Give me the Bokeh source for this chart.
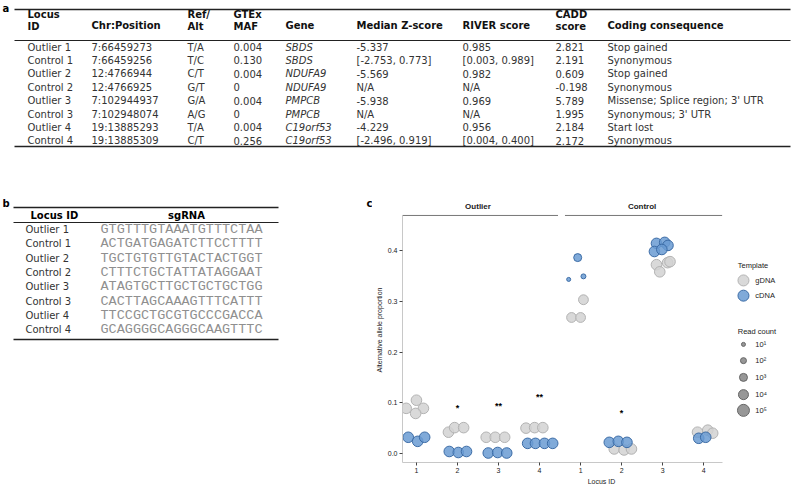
import math
from bokeh.plotting import figure
from bokeh.models import Range1d, FixedTicker, NumeralTickFormatter
from bokeh.layouts import column, row
from bokeh.embed import file_html
from bokeh.resources import INLINE
from bokeh.core.properties import value

FONT = "DejaVu Sans"
PFONT = "Liberation Sans"
MONO = "Liberation Mono"

# ---------------- Table a data ----------------
a_headers = [["Locus", "ID"], ["Chr:Position"], ["Ref/", "Alt"], ["GTEx", "MAF"], ["Gene"],
             ["Median Z-score"], ["RIVER score"], ["CADD", "score"], ["Coding consequence"]]
locus_ids = ["Outlier 1", "Control 1", "Outlier 2", "Control 2",
             "Outlier 3", "Control 3", "Outlier 4", "Control 4"]
chr_pos = ["7:66459273", "7:66459256", "12:4766944", "12:4766925",
           "7:102944937", "7:102948074", "19:13885293", "19:13885309"]
ref_alt = ["T/A", "T/C", "C/T", "G/T", "G/A", "A/G", "T/A", "C/T"]
gtex_maf = ["0.004", "0.130", "0.004", "0", "0.004", "0", "0.004", "0.256"]
gene = ["SBDS", "SBDS", "NDUFA9", "NDUFA9", "PMPCB", "PMPCB", "C19orf53", "C19orf53"]
median_z = ["-5.337", "[-2.753, 0.773]", "-5.569", "N/A", "-5.938", "N/A", "-4.229", "[-2.496, 0.919]"]
river = ["0.985", "[0.003, 0.989]", "0.982", "N/A", "0.969", "N/A", "0.956", "[0.004, 0.400]"]
cadd = ["2.821", "2.191", "0.609", "-0.198", "5.789", "1.995", "2.184", "2.172"]
coding = ["Stop gained", "Synonymous", "Stop gained", "Synonymous",
          "Missense; Splice region; 3' UTR", "Synonymous; 3' UTR", "Start lost", "Synonymous"]

# ---------------- Table b data ----------------
b_headers = ["Locus ID", "sgRNA"]
sgrna = ["GTGTTTGTAAATGTTTCTAA", "ACTGATGAGATCTTCCTTTT", "TGCTGTGTTGTACTACTGGT",
         "CTTTCTGCTATTATAGGAAT", "ATAGTGCTTGCTGCTGCTGG", "CACTTAGCAAAGTTTCATTT",
         "TTCCGCTGCGTGCCCGACCA", "GCAGGGGCAGGGCAAGTTTC"]

# ---------------- Panel c data ----------------
locus_pos = [1, 2, 3, 4, 5, 6, 7, 8]
tick_labels = ["1", "2", "3", "4", "1", "2", "3", "4"]
group_names = ["Outlier", "Control"]
group_members = [[1, 2, 3, 4], [5, 6, 7, 8]]
y_ticks = [0.0, 0.1, 0.2, 0.3, 0.4]

# gDNA (grey) replicates
g_locus = [1, 1, 1, 1, 2, 2, 2, 3, 3, 3, 4, 4, 4, 5, 5, 5, 6, 6, 6, 7, 7, 7, 7, 8, 8, 8]
g_offset = [0.0, -0.25, 0.17, -0.02, -0.22, -0.07, 0.15, -0.3, -0.08, 0.15, -0.33, -0.12, 0.08,
            0.07, -0.22, 0.0, -0.18, 0.06, 0.24, -0.15, 0.12, -0.07, 0.18, -0.15, 0.1, 0.22]
g_value = [0.105, 0.089, 0.089, 0.079, 0.042, 0.051, 0.051, 0.032, 0.032, 0.032, 0.05, 0.051, 0.051,
           0.303, 0.268, 0.268, 0.009, 0.007, 0.009, 0.372, 0.376, 0.358, 0.378, 0.042, 0.046, 0.04]
g_count = [20000] * 13 + [8000, 8000, 8000] + [20000] * 10

# cDNA (blue) replicates
c_locus = [1, 1, 1, 2, 2, 2, 3, 3, 3, 4, 4, 4, 4, 5, 5, 5, 6, 6, 6, 7, 7, 7, 7, 7, 8, 8]
c_offset = [-0.2, 0.03, 0.2, -0.2, 0.02, 0.22, -0.25, -0.02, 0.2, -0.29, -0.1, 0.12, 0.32,
            -0.07, -0.29, 0.07, -0.3, -0.08, 0.13, -0.15, 0.05, 0.13, -0.2, -0.02, -0.12, 0.05]
c_value = [0.032, 0.024, 0.032, 0.004, 0.002, 0.004, 0.001, 0.002, 0.001, 0.02, 0.02, 0.02, 0.02,
           0.386, 0.343, 0.349, 0.022, 0.024, 0.022, 0.414, 0.416, 0.41, 0.398, 0.402, 0.03, 0.032]
c_count = [20000] * 13 + [1000, 10, 30] + [20000] * 10

sig_x = [2, 3, 4, 6]
sig_y = [0.09, 0.093, 0.111, 0.08]
sig_text = ["*", "**", "**", "*"]

fill_types = ["gDNA", "cDNA"]
size_levels = [10, 100, 1000, 10000, 100000]
size_labels = ["10\u00b9", "10\u00b2", "10\u00b3", "10\u2074", "10\u2075"]


def msize(c):
    return 2 + 2 * math.log10(c)


GREY_FILL, GREY_LINE = "#d2d2d2", "#b3b3b3"
BLUE_FILL, BLUE_LINE = "#6a9bd2", "#3c6ca6"

# ================= Figure a (screen-pixel canvas) =================
WA, HA = 800, 193
pa = figure(width=WA, height=HA, x_range=Range1d(0, WA), y_range=Range1d(HA, 0),
            x_axis_type=None, y_axis_type=None, output_backend="svg",
            toolbar_location=None, min_border=0)
pa.grid.visible = False
pa.outline_line_color = None

col_x = [27, 91, 187, 233, 285, 356, 462, 555, 607]
pa.text(x=[2], y=[8], text=["a"], text_font=value(FONT), text_font_style="bold",
        text_font_size="10px", text_baseline="middle")
pa.segment(x0=[14, 14, 14], x1=[790, 790, 790], y0=[9, 40, 146], y1=[9, 40, 146],
           line_color="#222222", line_width=[1.6, 1.0, 1.6])
hx, hy, ht = [], [], []
for cx, h in zip(col_x, a_headers):
    if len(h) == 2:
        hx += [cx, cx]; hy += [14, 26]; ht += h
    else:
        hx.append(cx); hy.append(25); ht.append(h[0])
pa.text(x=hx, y=hy, text=ht, text_font=value(FONT), text_font_style="bold",
        text_font_size="10px", text_baseline="middle", text_color="#111111")
row_y = [46.5 + 13.4 * i for i in range(len(locus_ids))]
for j, colvals in enumerate([locus_ids, chr_pos, ref_alt, gtex_maf, gene, median_z, river, cadd, coding]):
    pa.text(x=[col_x[j]] * len(colvals), y=row_y, text=colvals, text_font=value(FONT),
            text_font_size="10px", text_baseline="middle", text_color="#333333",
            text_font_style="italic" if j == 4 else "normal")

# ================= Figure b =================
WB, HB = 372, 295
BT, BB = 4, 26          # shared top / bottom borders of the lower row
Y0, Y1 = HA + BT, HA + HB - BB
pb = figure(width=WB, height=HB, x_range=Range1d(0, WB), y_range=Range1d(Y1, Y0),
            x_axis_type=None, y_axis_type=None, output_backend="svg",
            toolbar_location=None, min_border_left=0, min_border_right=0,
            min_border_top=BT, min_border_bottom=BB)
pb.grid.visible = False
pb.outline_line_color = None
pb.text(x=[2, 366], y=[203, 203], text=["b", "c"], text_font=value(FONT), text_font_style="bold",
        text_font_size="10px", text_baseline="middle")
pb.segment(x0=[13, 13, 13], x1=[278, 278, 278], y0=[207, 222, 339], y1=[207, 222, 339],
           line_color="#222222", line_width=[1.6, 1.0, 1.6])
pb.text(x=[30], y=[215], text=[b_headers[0]], text_font=value(FONT), text_font_style="bold",
        text_font_size="10px", text_baseline="middle")
pb.text(x=[186], y=[215], text=[b_headers[1]], text_font=value(FONT), text_font_style="bold",
        text_font_size="10px", text_baseline="middle", text_align="center")
brow_y = [229 + 14.3 * i for i in range(len(locus_ids))]
pb.text(x=[25] * 8, y=brow_y, text=locus_ids, text_font=value(FONT), text_font_size="10px",
        text_baseline="middle", text_color="#333333")
pb.text(x=[100] * 8, y=brow_y, text=sgrna, text_font=value(MONO), text_font_size="13.5px",
        text_baseline="middle", text_color="#8f8f8f")

# ================= Figure c =================
WC = WA - WB
pc = figure(width=WC, height=HB, x_range=Range1d(0.66, 10.36), y_range=Range1d(-0.0177, 0.5044),
            output_backend="svg", toolbar_location=None,
            min_border_left=26, min_border_right=0, min_border_top=BT, min_border_bottom=BB)
pc.grid.visible = False
pc.outline_line_color = None

for ax in (pc.xaxis[0], pc.yaxis[0]):
    ax.axis_line_color = "#c8c8c8"
    ax.major_tick_line_color = "#444444"
    ax.major_tick_out = 3
    ax.major_tick_in = 0
    ax.minor_tick_line_color = None
    ax.major_label_text_font = PFONT
    ax.major_label_text_font_size = "7px"
    ax.major_label_text_color = "#222222"
    ax.axis_label_text_font = PFONT
    ax.axis_label_text_font_size = "7px"
    ax.axis_label_text_font_style = "normal"
    ax.axis_label_text_color = "#222222"
    ax.major_label_standoff = 2
    ax.axis_label_standoff = 2

pc.xaxis.ticker = FixedTicker(ticks=locus_pos)
pc.xaxis.major_label_overrides = {p: l for p, l in zip(locus_pos, tick_labels)}
pc.xaxis.bounds = (0.66, 8.45)
pc.xaxis.axis_label = "Locus ID"
pc.yaxis.ticker = FixedTicker(ticks=y_ticks)
pc.yaxis.formatter = NumeralTickFormatter(format="0.0")
pc.yaxis.bounds = (-0.0177, 0.469)
pc.yaxis.axis_label = "Alternative allele proportion"

# strips
sx0 = [min(m) - 0.38 for m in group_members]
sx1 = [max(m) + 0.45 for m in group_members]
pc.segment(x0=sx0, x1=sx1, y0=[0.469] * 2, y1=[0.469] * 2, line_color="#777777", line_width=1)
pc.text(x=[(min(m) + max(m)) / 2 for m in group_members], y=[0.487] * 2, text=group_names,
        text_font=value(PFONT), text_font_size="8px", text_font_style="bold",
        text_align="center", text_baseline="middle", text_color="#222222")

# points
pc.scatter(x=[l + o for l, o in zip(g_locus, g_offset)], y=g_value, size=[msize(c) for c in g_count],
           fill_color=GREY_FILL, line_color=GREY_LINE, fill_alpha=0.85, line_width=1)
pc.scatter(x=[l + o for l, o in zip(c_locus, c_offset)], y=c_value, size=[msize(c) for c in c_count],
           fill_color=BLUE_FILL, line_color=BLUE_LINE, fill_alpha=0.85, line_width=1)

pc.text(x=sig_x, y=sig_y, text=sig_text, text_font=value(PFONT), text_font_size="9px",
        text_font_style="bold", text_align="center", text_baseline="middle")

# manual legends (right side of the frame)
LX_T, LX_G, LX_L = 8.83, 8.97, 9.26
pc.text(x=[LX_T], y=[0.370], text=["Template"], text_font=value(PFONT), text_font_size="7.5px",
        text_baseline="middle", text_color="#222222")
pc.scatter(x=[LX_G] * 2, y=[0.341, 0.311], size=11, fill_color=[GREY_FILL, BLUE_FILL],
           line_color=[GREY_LINE, BLUE_LINE], fill_alpha=0.85)
pc.text(x=[LX_L] * 2, y=[0.341, 0.311], text=fill_types, text_font=value(PFONT),
        text_font_size="7.5px", text_baseline="middle", text_color="#222222")

pc.text(x=[LX_T], y=[0.240], text=["Read count"], text_font=value(PFONT), text_font_size="7.5px",
        text_baseline="middle", text_color="#222222")
leg_y = [0.215, 0.183, 0.150, 0.116, 0.085]
pc.scatter(x=[LX_G] * 5, y=leg_y, size=[msize(c) for c in size_levels], fill_color="#8c8c8c",
           line_color="#666666", fill_alpha=0.9)
pc.text(x=[LX_L] * 5, y=leg_y, text=size_labels, text_font=value(PFONT), text_font_size="7.5px",
        text_baseline="middle", text_color="#222222")

layout = column(pa, row(pb, pc, spacing=0), spacing=0)
open("out.html", "w").write(file_html(layout, INLINE))
